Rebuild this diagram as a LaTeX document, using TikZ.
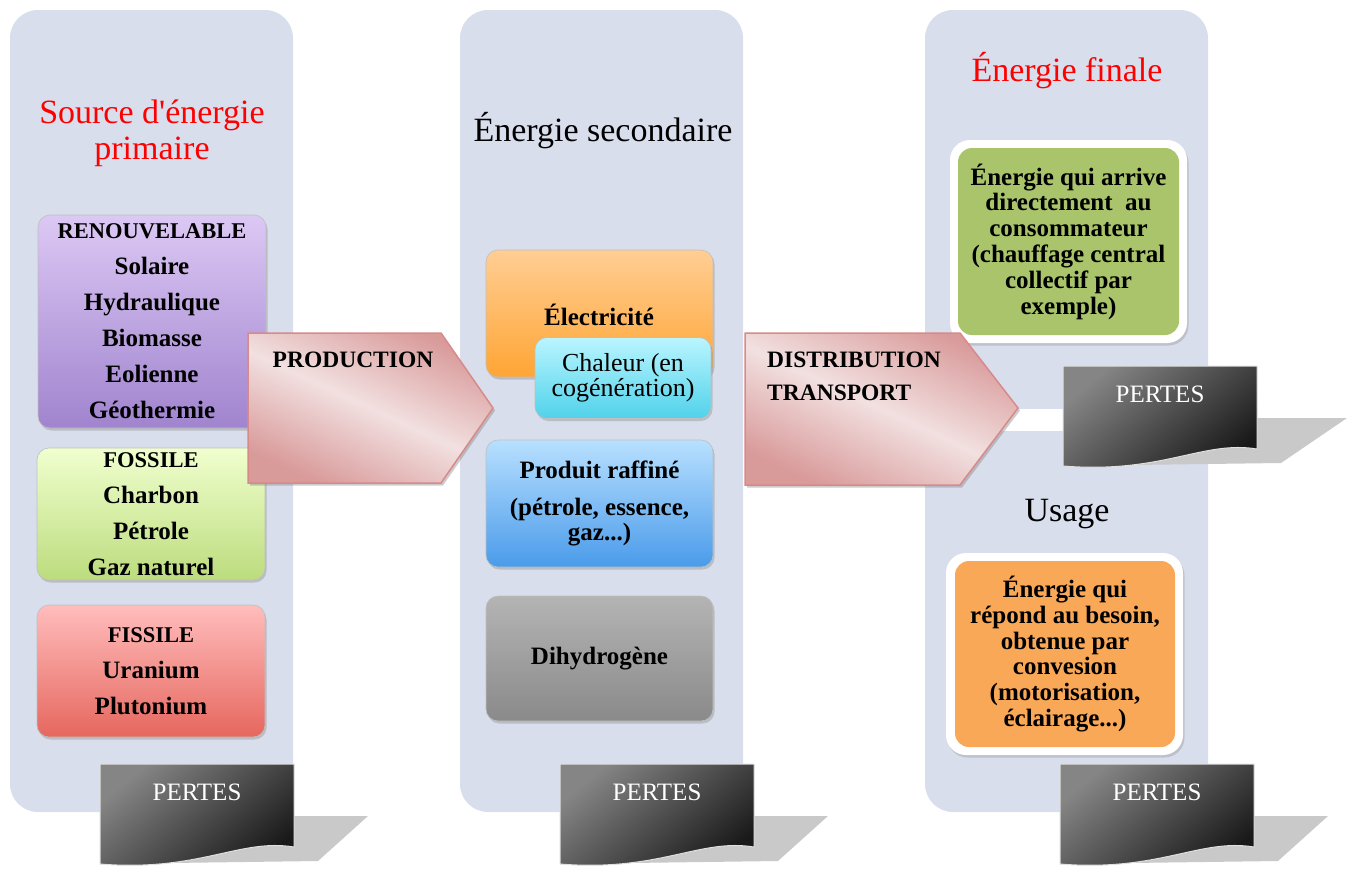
\documentclass[tikz,border=0pt]{standalone}
\usepackage{fontspec}
\setmainfont{Liberation Serif}
\usetikzlibrary{shadows,calc}
\definecolor{panel}{HTML}{D9DEEC}
\definecolor{titlered}{HTML}{FF0000}
\definecolor{purpT}{HTML}{DCC8F4}
\definecolor{purpB}{HTML}{A084CE}
\definecolor{greenT}{HTML}{F0FFCE}
\definecolor{greenB}{HTML}{BCDC7E}
\definecolor{redT}{HTML}{FFBDBD}
\definecolor{redB}{HTML}{E6675E}
\definecolor{orT}{HTML}{FFCE94}
\definecolor{orB}{HTML}{FFA534}
\definecolor{cyT}{HTML}{BAF5FF}
\definecolor{cyB}{HTML}{50D2EA}
\definecolor{blT}{HTML}{B8E0FF}
\definecolor{blB}{HTML}{4A9BEA}
\definecolor{grT}{HTML}{B4B4B4}
\definecolor{grB}{HTML}{8A8A8A}
\definecolor{pinkD}{HTML}{D99A9A}
\definecolor{pinkL}{HTML}{F2E0E0}
\definecolor{pinkE}{HTML}{D88A8A}
\definecolor{finGreen}{HTML}{A9C46A}
\definecolor{finOrange}{HTML}{F9A857}
\definecolor{shadowgray}{HTML}{C9C9C9}
\newcommand\capl[1]{{\fontsize{22.5}{36}\selectfont #1}}
\newcommand\straightquote{\XeTeXglyph\XeTeXcharglyph"0027\relax}
\newcommand\pertesshape[3]{%
  \begin{scope}[shift={#1}]
    \fill[shadowgray] (185,52) -- (#3,52) -- (218,97) -- (70,99) -- (70,60) -- cycle;
    \path[pertesfill] (0,0) -- (194,0) -- (194,83) .. controls (140,74) and (100,108) .. (0,100) -- cycle;
    \node[pertestext] (#2) at (97,28) {PERTES};
  \end{scope}}
\begin{document}
\begin{tikzpicture}[x=1pt,y=-1pt,
  panelbg/.style={fill=panel, rounded corners=28pt},
  gbox/.style={rounded corners=12pt, inner sep=0pt, draw=black!25, line width=0.6pt,
    drop shadow={shadow xshift=1.5pt, shadow yshift=-2.5pt, opacity=0.35},
    font=\fontsize{25}{36}\selectfont\bfseries, align=center},
  arrowshape/.style={draw=pinkE, line width=1.5pt, top color=pinkD, bottom color=pinkD, middle color=pinkL, shading angle=-25,
    drop shadow={shadow xshift=2pt, shadow yshift=-2.5pt, opacity=0.4}},
  arrowtext/.style={font=\fontsize{23.5}{33}\selectfont\bfseries, align=left, inner sep=0pt},
  titletext/.style={font=\fontsize{34}{36}\selectfont, align=center, inner sep=0pt},
  pertesfill/.style={draw=white!88!black, line width=1pt, top color=black!48, bottom color=black!90, shading angle=40},
  pertestext/.style={text=white, font=\fontsize{25}{28}\selectfont, inner sep=0pt},
  whiteouter/.style={fill=white, rounded corners=20pt, inner sep=0pt,
    drop shadow={shadow xshift=1.5pt, shadow yshift=-2.5pt, opacity=0.3}},
  fintext/.style={rounded corners=14pt, inner sep=0pt, font=\fontsize{25}{25.8}\selectfont\bfseries, align=center}
]
\useasboundingbox (0,0) rectangle (1354,868);
% panels
\fill[panelbg] (10,10) rectangle (293,812);
\fill[panelbg] (460,10) rectangle (743,812);
\fill[panelbg] (925,10) rectangle (1208,812);
\fill[white] (925,409) rectangle (1210,431);

% titles
\node[titletext, text=titlered] (t1) at (152,133) {Source d\straightquote énergie\\primaire};
\node[titletext] (t2) at (603,131) {Énergie secondaire};
\node[titletext, text=titlered] (t3) at (1067,71) {Énergie finale};
\node[titletext] (t4) at (1067,514) {Usage};

% column 1 boxes
\node[gbox, top color=purpT, bottom color=purpB, minimum width=228pt, minimum height=213pt] (renouv) at (152,321.5)
  {\capl{RENOUVELABLE}\\Solaire\\Hydraulique\\Biomasse\\Eolienne\\Géothermie};
\node[gbox, top color=greenT, bottom color=greenB, minimum width=228pt, minimum height=132pt] (fossile) at (151,514)
  {\capl{FOSSILE}\\Charbon\\Pétrole\\Gaz naturel};
\node[gbox, top color=redT, bottom color=redB, minimum width=228pt, minimum height=132pt] (fissile) at (151,671)
  {\capl{FISSILE}\\Uranium\\Plutonium};

% column 2 boxes
\node[gbox, top color=orT, bottom color=orB, minimum width=227pt, minimum height=127pt] (elec) at (599.5,313.5) {};
\node[font=\fontsize{25}{36}\selectfont\bfseries, inner sep=0pt] (electxt) at (599,315) {Électricité};
\node[gbox, top color=cyT, bottom color=cyB, minimum width=176pt, minimum height=81pt,
  font=\fontsize{26}{25}\selectfont] (chaleur) at (623,378) {Chaleur (en\\cogénération)};
\node[gbox, top color=blT, bottom color=blB, minimum width=227pt, minimum height=127pt,
  font=\fontsize{25}{25}\selectfont\bfseries] (raffine) at (599.5,503.5)
  {Produit raffiné\\[12pt](pétrole, essence,\\gaz...)};
\node[gbox, top color=grT, bottom color=grB, minimum width=227pt, minimum height=125pt] (dihydro) at (599.5,658.5) {Dihydrogène};

% column 3 boxes
\node[whiteouter, minimum width=237pt, minimum height=203pt] (finout) at (1068.5,241.5) {};
\node[fintext, fill=finGreen, minimum width=221pt, minimum height=187pt] (finale) at (1068.5,241.5)
  {Énergie qui arrive\\directement\ \ au\\consommateur\\(chauffage central\\collectif par\\exemple)};
\node[whiteouter, minimum width=237pt, minimum height=202pt] (usout) at (1064.5,654) {};
\node[fintext, fill=finOrange, minimum width=220pt, minimum height=186pt] (usage) at (1065,654)
  {Énergie qui\\répond au besoin,\\obtenue par\\convesion\\(motorisation,\\éclairage...)};

% arrows
\path[arrowshape] (248,333) -- (441,333) -- (493,408) -- (441,483) -- (248,483) -- cycle;
\node[arrowtext] (prod) at (353,360) {PRODUCTION};
\path[arrowshape] (745,333) -- (960,333) -- (1018,408) -- (960,485) -- (745,485) -- cycle;
\node[arrowtext, anchor=north west] (dist) at (767,352) {DISTRIBUTION\\TRANSPORT};

% pertes
\pertesshape{(100,764)}{p1}{268}
\pertesshape{(560,764)}{p2}{268}
\pertesshape{(1060,764)}{p3}{268}
\pertesshape{(1063,366)}{p4}{284}
\end{tikzpicture}
\end{document}
